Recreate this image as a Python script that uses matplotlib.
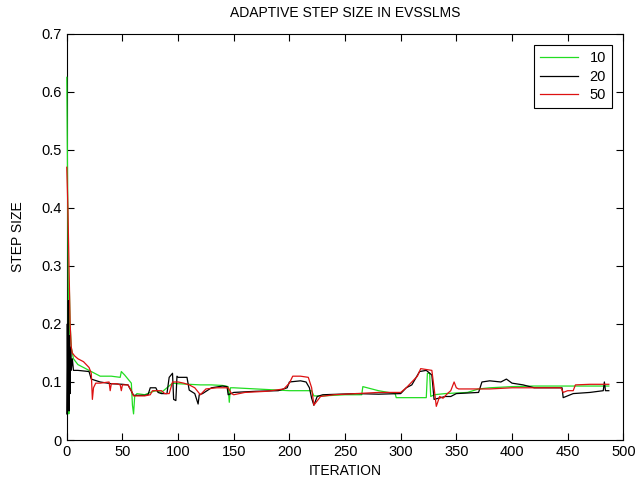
import matplotlib
matplotlib.use("Agg")
import matplotlib.pyplot as plt

plt.rcParams['font.family'] = ['Liberation Sans', 'DejaVu Sans']

labels = ["10", "20", "50"]
colors = ["#22dd22", "#000000", "#dd1111"]

green_pts = [(0, 0.625), (0.7, 0.45), (1.3, 0.30), (1.8, 0.045), (2.3, 0.26), (3, 0.2),
             (4, 0.16), (6, 0.14), (10, 0.13), (20, 0.12), (25, 0.115), (30, 0.11),
             (40, 0.11), (48, 0.108), (49, 0.118), (52, 0.112), (58, 0.098), (59, 0.06),
             (60, 0.045), (61, 0.075), (63, 0.08), (70, 0.078), (75, 0.082), (80, 0.085),
             (85, 0.082), (90, 0.09), (95, 0.098), (100, 0.097), (110, 0.096), (120, 0.095),
             (130, 0.095), (140, 0.094), (145, 0.092), (146, 0.065), (147, 0.09), (150, 0.09),
             (170, 0.088), (190, 0.086), (200, 0.085), (210, 0.085), (220, 0.085), (222, 0.076),
             (230, 0.076), (250, 0.078), (265, 0.078), (266, 0.092), (280, 0.085), (295, 0.08),
             (296, 0.073), (323, 0.073), (324, 0.115), (326, 0.115), (327, 0.075), (330, 0.078),
             (340, 0.08), (360, 0.082), (370, 0.088), (380, 0.09), (400, 0.092), (420, 0.093),
             (450, 0.093), (480, 0.093), (487, 0.093)]

black_pts = [(0, 0.045), (0.5, 0.2), (1, 0.06), (1.5, 0.24), (2, 0.05), (2.5, 0.18),
             (3, 0.08), (3.5, 0.16), (4, 0.12), (5, 0.14), (6, 0.12), (10, 0.12),
             (20, 0.118), (22, 0.105), (30, 0.1), (40, 0.097), (50, 0.096), (55, 0.095),
             (60, 0.077), (70, 0.077), (73, 0.078), (75, 0.09), (80, 0.09), (82, 0.082),
             (85, 0.08), (90, 0.08), (92, 0.108), (95, 0.115), (96, 0.07), (98, 0.068),
             (99, 0.11), (100, 0.108), (108, 0.108), (110, 0.086), (115, 0.08), (118, 0.062),
             (119, 0.078), (122, 0.08), (130, 0.09), (140, 0.093), (144, 0.092), (145, 0.078),
             (150, 0.082), (170, 0.084), (190, 0.085), (198, 0.09), (200, 0.1), (210, 0.102),
             (215, 0.1), (218, 0.09), (220, 0.072), (222, 0.06), (225, 0.075), (230, 0.078),
             (260, 0.08), (280, 0.079), (300, 0.08), (305, 0.09), (310, 0.095), (317, 0.118),
             (323, 0.12), (328, 0.112), (330, 0.07), (340, 0.075), (345, 0.075), (350, 0.08),
             (370, 0.082), (373, 0.1), (380, 0.102), (390, 0.1), (395, 0.105), (400, 0.098),
             (410, 0.095), (420, 0.09), (445, 0.09), (446, 0.073), (455, 0.08), (470, 0.082),
             (482, 0.085), (483, 0.1), (484, 0.085), (487, 0.085)]

red_pts = [(0, 0.47), (1, 0.4), (2, 0.3), (3, 0.2), (4, 0.16), (5, 0.15), (7, 0.145),
           (10, 0.14), (15, 0.135), (20, 0.125), (22, 0.115), (23, 0.07), (24, 0.09),
           (26, 0.098), (30, 0.098), (38, 0.1), (39, 0.085), (40, 0.097), (45, 0.097),
           (48, 0.095), (49, 0.085), (50, 0.095), (55, 0.095), (58, 0.085), (60, 0.076),
           (70, 0.076), (75, 0.078), (77, 0.085), (85, 0.085), (88, 0.08), (92, 0.08),
           (95, 0.1), (100, 0.1), (105, 0.098), (110, 0.095), (115, 0.09), (120, 0.078),
           (125, 0.088), (135, 0.09), (145, 0.09), (148, 0.08), (150, 0.078), (160, 0.082),
           (180, 0.084), (195, 0.088), (200, 0.098), (203, 0.11), (210, 0.11), (217, 0.108),
           (220, 0.09), (222, 0.06), (224, 0.065), (228, 0.075), (240, 0.078), (260, 0.08),
           (280, 0.082), (300, 0.082), (305, 0.09), (310, 0.1), (315, 0.11), (318, 0.123),
           (328, 0.12), (330, 0.09), (332, 0.058), (335, 0.075), (338, 0.072), (342, 0.08),
           (345, 0.085), (348, 0.1), (350, 0.09), (352, 0.088), (360, 0.088), (380, 0.088),
           (400, 0.09), (420, 0.09), (444, 0.09), (446, 0.082), (450, 0.085), (455, 0.085),
           (457, 0.095), (470, 0.096), (487, 0.096)]

series = [green_pts, black_pts, red_pts]

fig = plt.figure(figsize=(6.36, 4.83), dpi=100)
ax = fig.add_axes([0.105, 0.089, 0.875, 0.841])

for pts, lab, col in zip(series, labels, colors):
    xs = [p[0] for p in pts]
    ys = [p[1] for p in pts]
    ax.plot(xs, ys, color=col, linewidth=0.9, label=lab, zorder=3, clip_on=False)

ax.set_xlim(0, 500)
ax.set_ylim(0, 0.7)
ax.set_xticks(range(0, 501, 50))
ax.set_yticks([0, 0.1, 0.2, 0.3, 0.4, 0.5, 0.6, 0.7])
ax.set_yticklabels(["0", "0.1", "0.2", "0.3", "0.4", "0.5", "0.6", "0.7"])
ax.tick_params(direction='in', top=True, right=True, labelsize=10.5, length=5)
for s in ax.spines.values():
    s.set_linewidth(0.8)

ax.set_title("ADAPTIVE STEP SIZE IN EVSSLMS", fontsize=10, pad=12)
ax.set_xlabel("ITERATION", fontsize=10, labelpad=4)
ax.set_ylabel("STEP SIZE", fontsize=10, labelpad=12)

leg = ax.legend(loc='upper right', fontsize=10.5, fancybox=False, framealpha=1,
                edgecolor='black', handlelength=2.6, borderaxespad=0.8,
                labelspacing=0.3)
leg.get_frame().set_linewidth(0.8)

fig.savefig("out.png", dpi=100, facecolor='white')
